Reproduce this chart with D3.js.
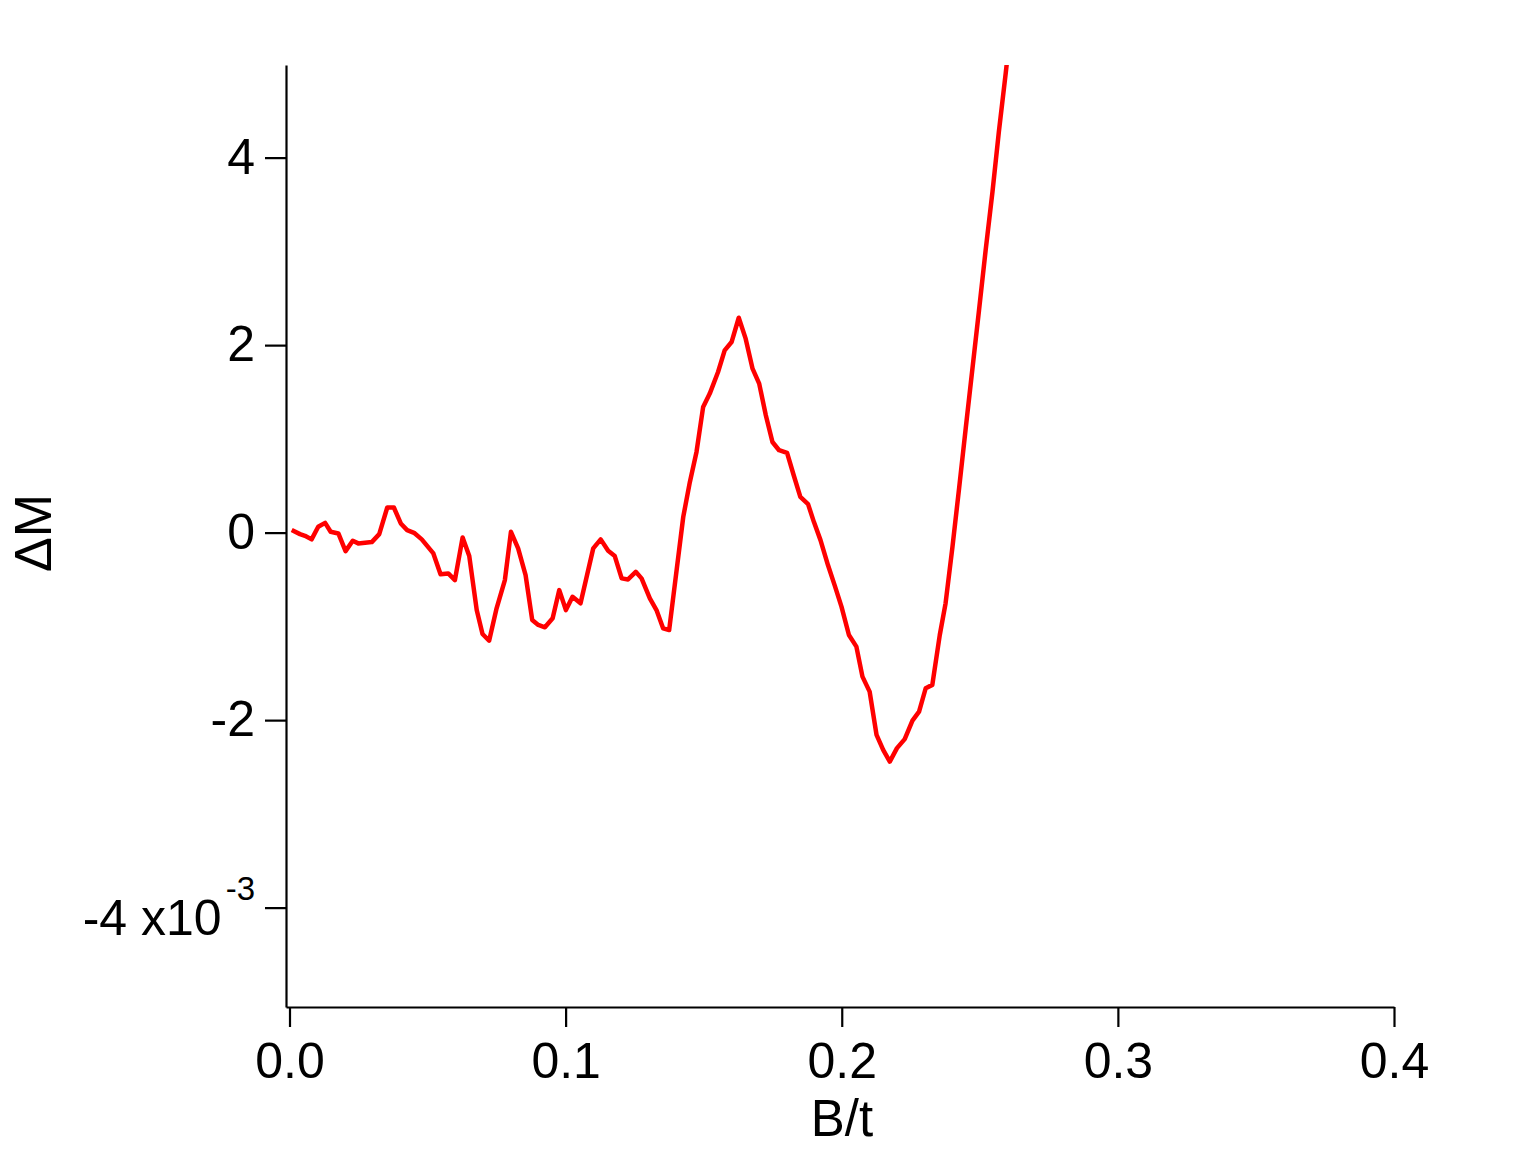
<!DOCTYPE html>
<html>
<head>
<meta charset="utf-8">
<script src="https://cdn.jsdelivr.net/npm/d3@7"></script>
<style>
  html, body { margin: 0; padding: 0; background: #fff; }
  svg { display: block; font-family: "Liberation Sans", Arial, Helvetica, sans-serif; }
</style>
</head>
<body>
<svg id="chart" width="1520" height="1160"></svg>
<script>
// B/t values (x)
const bField = [
  0.0008, 0.0038, 0.0056, 0.0080, 0.0104, 0.0129, 0.0149, 0.0177, 0.0203, 0.0229,
  0.0249, 0.0298, 0.0325, 0.0354, 0.0378, 0.0403, 0.0426, 0.0451, 0.0479, 0.0521,
  0.0547, 0.0575, 0.0599, 0.0627, 0.0651, 0.0678, 0.0699, 0.0723, 0.0750, 0.0780,
  0.0802, 0.0828, 0.0855, 0.0879, 0.0901, 0.0925, 0.0953, 0.0977, 0.1001, 0.1025,
  0.1054, 0.1100, 0.1127, 0.1154, 0.1178, 0.1203, 0.1226, 0.1254, 0.1275, 0.1305,
  0.1329, 0.1353, 0.1375, 0.1402, 0.1426, 0.1450, 0.1474, 0.1498, 0.1522, 0.1552,
  0.1576, 0.1601, 0.1627, 0.1652, 0.1677, 0.1701, 0.1725, 0.1749, 0.1773, 0.1802,
  0.1826, 0.1850, 0.1878, 0.1899, 0.1923, 0.1950, 0.1975, 0.1999, 0.2026, 0.2053,
  0.2075, 0.2101, 0.2126, 0.2150, 0.2174, 0.2200, 0.2228, 0.2256, 0.2280, 0.2304,
  0.2328, 0.2355, 0.2376, 0.2401, 0.2425, 0.2449, 0.2473, 0.2497, 0.2521, 0.2546,
  0.2569, 0.2594, 0.2618
];
// ΔM values in units of 1e-3
const deltaM = [
  0.027, -0.016, -0.034, -0.072, 0.062, 0.104, 0.009, -0.009, -0.197, -0.087,
  -0.115, -0.101, -0.016, 0.268, 0.268, 0.098, 0.027, -0.002, -0.072, -0.222,
  -0.445, -0.435, -0.506, -0.051, -0.250, -0.826, -1.081, -1.153, -0.807, -0.506,
  0.009, -0.168, -0.453, -0.932, -0.985, -1.010, -0.914, -0.613, -0.826, -0.684,
  -0.754, -0.168, -0.072, -0.194, -0.250, -0.488, -0.499, -0.418, -0.488, -0.701,
  -0.826, -1.021, -1.039, -0.399, 0.168, 0.541, 0.861, 1.340, 1.483, 1.713,
  1.944, 2.033, 2.292, 2.069, 1.749, 1.589, 1.252, 0.967, 0.879, 0.850,
  0.612, 0.381, 0.304, 0.115, -0.080, -0.346, -0.568, -0.790, -1.092, -1.216,
  -1.536, -1.696, -2.157, -2.317, -2.442, -2.299, -2.203, -2.005, -1.909, -1.660,
  -1.624, -1.092, -0.754, -0.151, 0.474, 1.113, 1.742, 2.370, 3.009, 3.638,
  4.277, 4.905, 5.545
];
const xTicks = [0.0, 0.1, 0.2, 0.3, 0.4];
const xTickLabels = ["0.0", "0.1", "0.2", "0.3", "0.4"];
const yTicks = [-4, -2, 0, 2, 4];
const yTickLabels = ["-4", "-2", "0", "2", "4"];
const yExponentLabel = " x10";
const yExponent = "-3";
const xTitle = "B/t";
const yTitle = "ΔM";

const svg = d3.select("#chart");
const plotLeft = 286, plotRight = 1394, plotTop = 65, plotBottom = 1007;

const x = d3.scaleLinear().domain([-0.001268, 0.4]).range([plotLeft, plotRight]);
const y = d3.scaleLinear().domain([-5.06, 4.988]).range([plotBottom, plotTop]);

svg.append("defs").append("clipPath").attr("id", "plotclip")
  .append("rect").attr("x", plotLeft).attr("y", plotTop)
  .attr("width", plotRight - plotLeft).attr("height", plotBottom - plotTop);

const data = bField.map((b, i) => ({ b, m: deltaM[i] }));

svg.append("path")
  .datum(data)
  .attr("clip-path", "url(#plotclip)")
  .attr("fill", "none")
  .attr("stroke", "#ff0000")
  .attr("stroke-width", 4.5)
  .attr("stroke-linejoin", "round")
  .attr("d", d3.line().x(d => x(d.b)).y(d => y(d.m)));

// X axis
const xAxis = d3.axisBottom(x)
  .tickValues(xTicks)
  .tickFormat((d, i) => xTickLabels[i])
  .tickSize(20).tickSizeOuter(0).tickPadding(15);
const gx = svg.append("g").attr("transform", `translate(0,${plotBottom})`).call(xAxis);
gx.select(".domain").attr("stroke", "#000").attr("stroke-width", 2.2);
gx.selectAll(".tick line").attr("stroke", "#000").attr("stroke-width", 2.2);
gx.selectAll(".tick text")
  .attr("fill", "#000")
  .attr("font-size", 50)
  .attr("y", 71).attr("dy", 0);

// Y axis
const yAxis = d3.axisLeft(y)
  .tickValues(yTicks)
  .tickFormat((d, i) => yTickLabels[i])
  .tickSize(21).tickSizeOuter(0).tickPadding(10);
const gy = svg.append("g").attr("transform", `translate(${plotLeft},0)`).call(yAxis);
gy.select(".domain").attr("stroke", "#000").attr("stroke-width", 2.2);
gy.selectAll(".tick line").attr("stroke", "#000").attr("stroke-width", 2.2);
gy.selectAll(".tick text")
  .attr("fill", "#000")
  .attr("font-size", 50)
  .attr("dy", 15.5);

gy.selectAll(".tick text").filter(d => d === -4).each(function() {
  const t = d3.select(this);
  t.text(null).attr("dy", 26.5);
  t.append("tspan").text(yTickLabels[0] + yExponentLabel);
  t.append("tspan").attr("font-size", 33).attr("dx", 4).attr("dy", -35).text(yExponent);
});

// Titles
svg.append("text")
  .attr("x", 842).attr("y", 1136)
  .attr("text-anchor", "middle")
  .attr("font-size", 51)
  .attr("fill", "#000")
  .text(xTitle);

svg.append("text")
  .attr("transform", "translate(51,533) rotate(-90)")
  .attr("text-anchor", "middle")
  .attr("font-size", 52)
  .attr("fill", "#000")
  .text(yTitle);
</script>
</body>
</html>
